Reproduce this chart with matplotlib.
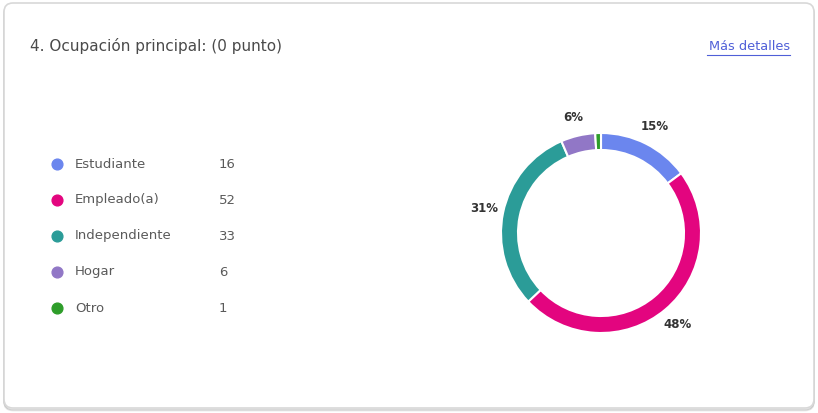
import matplotlib.pyplot as plt
from matplotlib.patches import FancyBboxPatch

categories = ['Estudiante', 'Empleado(a)', 'Independiente', 'Hogar', 'Otro']
counts = [16, 52, 33, 6, 1]
colors = ['#6b86ee', '#e3057f', '#2b9c98', '#9177c6', '#2e9d2a']

title = '4. Ocupación principal: (0 punto)'
link_text = 'Más detalles'

W, H = 818, 413
fig = plt.figure(figsize=(W / 100, H / 100), dpi=100)
fig.patch.set_facecolor('white')

# full-figure axes in pixel units for the card and the text
bg = fig.add_axes([0, 0, 1, 1])
bg.set_xlim(0, W)
bg.set_ylim(H, 0)
bg.axis('off')

# soft shadow + card
for off, alpha in [(2.5, 0.10), (1.5, 0.12)]:
    bg.add_patch(FancyBboxPatch((4, 3 + off), W - 8, H - 8,
                                boxstyle='round,pad=0,rounding_size=9',
                                facecolor='none', edgecolor='#000000',
                                linewidth=1.2, alpha=alpha))
bg.add_patch(FancyBboxPatch((4, 3), W - 8, H - 8,
                            boxstyle='round,pad=0,rounding_size=9',
                            facecolor='white', edgecolor='#d8d8d8', linewidth=1.2))

bg.text(30, 46, title, fontsize=11, color='#4a4a4a', va='center', ha='left')
bg.text(790, 46, link_text, fontsize=9.3, color='#4f5fd8', va='center', ha='right')
bg.plot([707, 790], [55, 55], color='#4f5fd8', linewidth=0.8)

# legend rows
y0, dy = 164, 36
for i, (name, n, c) in enumerate(zip(categories, counts, colors)):
    y = y0 + i * dy
    bg.scatter(57, y, s=60, color=c, zorder=3)
    bg.text(75, y, name, fontsize=9.5, color='#5a5a5a', va='center', ha='left')
    bg.text(219, y, str(n), fontsize=9.5, color='#5a5a5a', va='center', ha='left')

# donut chart, 100 px per data unit
cx, cy, half = 601, 233, 120
ax = fig.add_axes([(cx - half) / W, 1 - (cy + half) / H, 2 * half / W, 2 * half / H])
ax.pie(counts, colors=colors, startangle=90, counterclock=False, radius=1.0,
       wedgeprops=dict(width=0.17, edgecolor='white', linewidth=1.5),
       autopct=lambda p: f'{p:.0f}%' if p >= 2 else '', pctdistance=1.19,
       textprops=dict(fontsize=8.5, color='#333333', fontweight='semibold'))
ax.set_xlim(-1.2, 1.2)
ax.set_ylim(-1.2, 1.2)
ax.set_aspect('equal')

fig.savefig('out.png', dpi=100, facecolor='white')
